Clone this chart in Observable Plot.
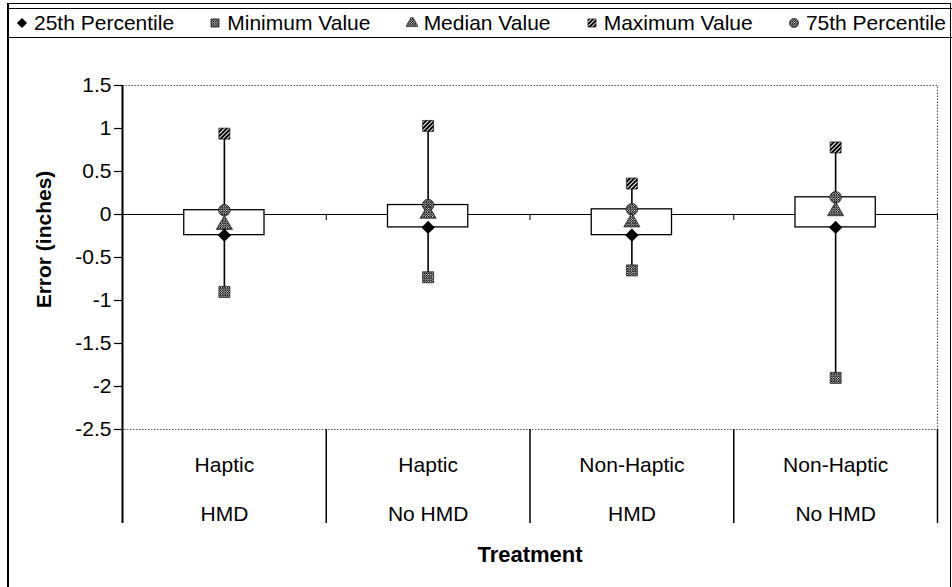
<!DOCTYPE html>
<html>
<head>
<meta charset="utf-8">
<script src="https://cdn.jsdelivr.net/npm/d3@7"></script>
<script src="https://cdn.jsdelivr.net/npm/@observablehq/plot@0.6"></script>
<style>
  body { margin: 0; background: #fff; font-family: "Liberation Sans", Arial, sans-serif; }
  #page { position: relative; width: 952px; height: 587px; overflow: hidden; background: #fff; }
  #frame { position: absolute; left: 7px; top: 3px; width: 941px; height: 640px;
           border-left: 2px solid #000; border-top: 1.5px solid #000; border-right: 1.5px solid #000; }
  #legend { position: absolute; left: 7px; top: 8px; width: 945px; height: 30px; box-sizing: border-box;
            border-top: 1px solid #000; border-bottom: 1px solid #000;
            display: flex; justify-content: space-between; align-items: center;
            padding: 0 6px 0 9px; font-size: 21px; color: #000; }
  .item { display: flex; align-items: center; white-space: nowrap; }
  .item svg { margin-right: 6px; }
  #chart { position: absolute; left: 0; top: 40px; }
</style>
</head>
<body>
<svg width="0" height="0" style="position:absolute">
  <defs>
    <pattern id="chk" width="2.4" height="2.4" patternUnits="userSpaceOnUse">
      <rect width="2.4" height="2.4" fill="#fff"/>
      <rect width="1.5" height="1.5" fill="#000"/>
      <rect x="1.2" y="1.2" width="1.5" height="1.5" fill="#000"/>
    </pattern>
    <pattern id="hatch" width="3" height="3" patternUnits="userSpaceOnUse" patternTransform="rotate(45)">
      <rect width="3" height="3" fill="#fff"/>
      <rect width="2" height="3" fill="#000"/>
    </pattern>
  </defs>
</svg>
<div id="page">
  <div id="frame"></div>
  <div id="legend"></div>
  <div id="chart"></div>
</div>
<script>
// Treatment groups (two-line category labels)
const categoryTop = ["Haptic", "Haptic", "Non-Haptic", "Non-Haptic"];
const categoryBottom = ["HMD", "No HMD", "HMD", "No HMD"];

// Summary statistics of error, in inches
const minValue    = [-0.90, -0.73, -0.65, -1.90];
const p25Value    = [-0.24, -0.15, -0.24, -0.15];
const medianValue = [-0.12,  0.01, -0.09,  0.04];
const p75Value    = [ 0.05,  0.11,  0.06,  0.20];
const maxValue    = [ 0.94,  1.03,  0.36,  0.78];

// Value axis
const yTicks = [1.5, 1, 0.5, 0, -0.5, -1, -1.5, -2, -2.5];
const yTickLabels = ["1.5", "1", "0.5", "0", "-0.5", "-1", "-1.5", "-2", "-2.5"];
const yMin = -2.5, yMax = 1.5;

const yTitle = "Error (inches)";
const xTitle = "Treatment";

// Legend entries, in legend order
const seriesNames = ["25th Percentile", "Minimum Value", "Median Value", "Maximum Value", "75th Percentile"];

const rows = categoryTop.map((top, i) => ({
  i, top, bottom: categoryBottom[i],
  min: minValue[i], p25: p25Value[i], median: medianValue[i], p75: p75Value[i], max: maxValue[i]
}));
const boundaries = d3.range(-0.5, categoryTop.length, 1);
const boxHalf = 0.197;
const labelDepth = 94; // height of the category label band below the plot

// marker style for each series
const markerStyle = {
  "25th Percentile": {symbol: "diamond2", r: 6, fill: "#000"},
  "Minimum Value":   {symbol: "square",   r: 6.2, fill: "url(#chk)"},
  "Median Value":    {symbol: "triangle", r: 6, fill: "url(#chk)"},
  "Maximum Value":   {symbol: "square",   r: 6.2, fill: "url(#hatch)"},
  "75th Percentile": {symbol: "circle",   r: 5.8, fill: "url(#chk)"}
};
const seriesField = {
  "25th Percentile": "p25", "Minimum Value": "min", "Median Value": "median",
  "Maximum Value": "max", "75th Percentile": "p75"
};
const d3Symbols = {diamond2: d3.symbolDiamond2, square: d3.symbolSquare, triangle: d3.symbolTriangle, circle: d3.symbolCircle};

// legend
const legend = d3.select("#legend");
for (const name of seriesNames) {
  const m = markerStyle[name];
  const item = legend.append("div").attr("class", "item");
  const s = item.append("svg").attr("width", 12).attr("height", 12);
  s.append("path")
    .attr("transform", "translate(6,6)")
    .attr("d", d3.symbol(d3Symbols[m.symbol], Math.PI * 4.6 * 4.6)())
    .attr("fill", m.fill)
    .attr("stroke", m.fill === "#000" ? "none" : "#111")
    .attr("stroke-width", 0.6);
  item.append("span").text(name);
}

const dotOrder = ["Minimum Value", "Maximum Value", "75th Percentile", "Median Value", "25th Percentile"];

const chart = Plot.plot({
  width: 952,
  height: 548,
  marginLeft: 122,
  marginRight: 15,
  marginTop: 45,
  marginBottom: 159,
  style: {fontFamily: '"Liberation Sans", Arial, sans-serif', fontSize: "21px", color: "#000", background: "transparent", overflow: "visible"},
  x: {domain: [-0.5, categoryTop.length - 0.5], axis: null},
  y: {domain: [yMin, yMax]},
  marks: [
    Plot.frame({stroke: "#555", strokeDasharray: "1.5,1.5", strokeWidth: 1.2}),
    // category axis crossing at zero, with tick marks between groups
    Plot.ruleY([0], {stroke: "#000", strokeWidth: 1}),
    Plot.ruleX(boundaries, {x: d => d, y1: 0, y2: 0, insetBottom: -6, stroke: "#000", strokeWidth: 1}),
    // value axis line, continued through the category label band
    Plot.ruleX([boundaries[0]], {x: d => d, y1: yMax, y2: yMin, insetBottom: -labelDepth, stroke: "#000", strokeWidth: 2}),
    Plot.ruleX(boundaries.slice(1), {x: d => d, y1: yMin, y2: yMin, insetBottom: -labelDepth, stroke: "#000", strokeWidth: 1.5}),
    // whiskers from minimum to maximum
    Plot.ruleX(rows, {x: "i", y1: "min", y2: "max", stroke: "#000", strokeWidth: 1.6}),
    // boxes from 25th to 75th percentile
    Plot.rect(rows, {x1: d => d.i - boxHalf, x2: d => d.i + boxHalf, y1: "p25", y2: "p75", fill: "#fff", stroke: "#000", strokeWidth: 1.3}),
    ...dotOrder.map(name => {
      const m = markerStyle[name];
      return Plot.dot(rows, {x: "i", y: seriesField[name], symbol: m.symbol, r: m.r, fill: m.fill,
        stroke: m.fill === "#000" ? "none" : "#111", strokeWidth: 0.7});
    }),
    Plot.axisY({ticks: yTicks, tickSize: 8, tickPadding: 3, tickFormat: d => yTickLabels[yTicks.indexOf(d)], fontSize: 21, label: null, stroke: "#000", strokeWidth: 1.2}),
    Plot.text(rows, {x: "i", y: () => yMin, dy: 36, text: "top", fontSize: 21}),
    Plot.text(rows, {x: "i", y: () => yMin, dy: 85, text: "bottom", fontSize: 21}),
    Plot.text([yTitle], {frameAnchor: "left", dx: -78, dy: -18, rotate: -90, textAnchor: "middle", text: d => d, fontWeight: "bold", fontSize: 21}),
    Plot.text([xTitle], {frameAnchor: "bottom", dy: 132, text: d => d, fontWeight: "bold", fontSize: 22})
  ]
});
document.getElementById("chart").appendChild(chart);
</script>
</body>
</html>
